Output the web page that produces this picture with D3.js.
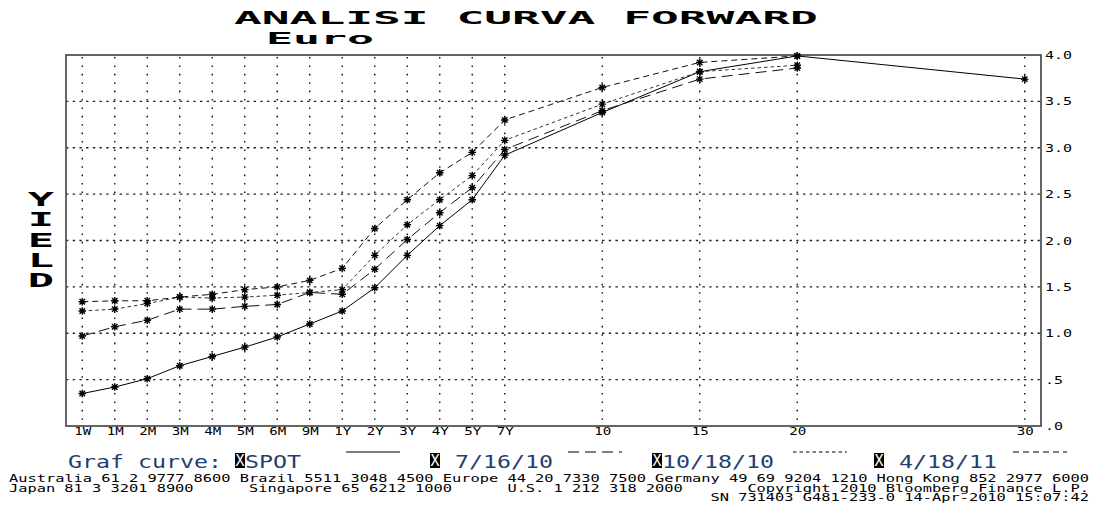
<!DOCTYPE html>
<html>
<head>
<meta charset="utf-8">
<script src="https://cdn.jsdelivr.net/npm/d3@7"></script>
<style>
  body { margin: 0; background: #fff; }
  text { white-space: pre; }
</style>
</head>
<body>
<svg id="chart" width="1093" height="506"></svg>
<script>
// tenors along the x axis and their slot on the Bloomberg grid
const tenors = ['1W','1M','2M','3M','4M','5M','6M','9M','1Y','2Y','3Y','4Y','5Y','7Y','10','15','20','30'];
const slots  = [0,1,2,3,4,5,6,7,8,9,10,11,12,13,16,19,22,29];

const spot    = [0.35,0.42,0.51,0.65,0.75,0.85,0.96,1.10,1.24,1.49,1.84,2.16,2.44,2.92,3.38,3.82,3.99,3.74];
const fwd0716 = [0.97,1.07,1.14,1.26,1.26,1.29,1.31,1.44,1.42,1.69,2.01,2.30,2.57,2.98,3.40,3.74,3.86];
const fwd1018 = [1.24,1.26,1.32,1.39,1.38,1.39,1.41,1.44,1.47,1.84,2.17,2.44,2.70,3.08,3.47,3.82,3.89];
const fwd0418 = [1.34,1.35,1.35,1.39,1.42,1.47,1.50,1.57,1.70,2.13,2.44,2.73,2.95,3.30,3.65,3.92,3.99];

const seriesNames = ['SPOT', '7/16/10', '10/18/10', '4/18/11'];
const yTicks = [0, 0.5, 1, 1.5, 2, 2.5, 3, 3.5, 4];
const yTickLabels = ['.0', '.5', '1.0', '1.5', '2.0', '2.5', '3.0', '3.5', '4.0'];

const footer1 = 'Australia 61 2 9777 8600 Brazil 5511 3048 4500 Europe 44 20 7330 7500 Germany 49 69 9204 1210 Hong Kong 852 2977 6000';
const footer2 = ['Japan 81 3 3201 8900', 'Singapore 65 6212 1000', 'U.S. 1 212 318 2000', 'Copyright 2010 Bloomberg Finance L.P.'];
const footer3 = 'SN 731403 G481-233-0 14-Apr-2010 15:07:42';

const mono = "'DejaVu Sans Mono', 'Liberation Mono', monospace";
const svg = d3.select('#chart');

const plotL = 66, plotR = 1041, plotT = 55, plotB = 426;
const x = d3.scaleLinear().domain([-0.5, 29.5]).range([plotL, plotR]);
const y = d3.scaleLinear().domain([0, 4]).range([plotB, plotT]);

// titles
const title = 'ANALISI CURVA FORWARD';
svg.append('text')
  .attr('x', 234).attr('y', 24)
  .attr('font-family', mono).attr('font-weight', 'bold').attr('font-size', 17)
  .attr('textLength', title.length * 27.8).attr('lengthAdjust', 'spacingAndGlyphs')
  .text(title);
svg.append('text')
  .attr('x', 266).attr('y', 44)
  .attr('font-family', mono).attr('font-weight', 'bold').attr('font-size', 16)
  .attr('textLength', 4 * 27).attr('lengthAdjust', 'spacingAndGlyphs')
  .text('Euro');

// YIELD, stacked letters
'YIELD'.split('').forEach((ch, i) => {
  svg.append('text')
    .attr('transform', `translate(41, ${206 + i * 20.3}) scale(2.3, 1)`)
    .attr('text-anchor', 'middle')
    .attr('font-family', mono).attr('font-weight', 'bold').attr('font-size', 19)
    .text(ch);
});

// grid
const grid = svg.append('g');
grid.selectAll('line.v')
  .data(slots)
  .enter().append('line')
  .attr('x1', d => x(d)).attr('x2', d => x(d))
  .attr('y1', plotT + 2).attr('y2', plotB)
  .attr('stroke', '#111').attr('stroke-width', 1.4)
  .attr('stroke-dasharray', '1.6,6.8');
grid.selectAll('line.h')
  .data(yTicks.slice(1, -1))
  .enter().append('line')
  .attr('x1', plotL).attr('x2', plotR)
  .attr('y1', d => y(d)).attr('y2', d => y(d))
  .attr('stroke', '#222').attr('stroke-width', 1.3)
  .attr('stroke-dasharray', '2.4,4.3');

// frame
svg.append('rect')
  .attr('x', plotL).attr('y', plotT)
  .attr('width', plotR - plotL).attr('height', plotB - plotT)
  .attr('fill', 'none').attr('stroke', '#555').attr('stroke-width', 1.8);

// axes
const xAxis = svg.append('g')
  .attr('transform', `translate(0, ${plotB})`)
  .call(d3.axisBottom(x).tickValues(slots).tickFormat((d, i) => tenors[i]).tickSize(0));
xAxis.select('.domain').remove();
xAxis.selectAll('text')
  .attr('y', 8.5).attr('dy', null)
  .attr('font-family', mono).attr('font-size', 10).attr('fill', '#000')
  .attr('textLength', function () { return this.textContent.length * 8.5; })
  .attr('lengthAdjust', 'spacingAndGlyphs');

const yAxis = svg.append('g')
  .attr('transform', `translate(${plotR}, 0)`)
  .call(d3.axisRight(y).tickValues(yTicks).tickFormat((d, i) => yTickLabels[i]).tickSize(0));
yAxis.select('.domain').remove();
yAxis.selectAll('text')
  .attr('x', 4).attr('dy', '0.36em')
  .attr('font-family', mono).attr('font-size', 10).attr('fill', '#000')
  .attr('textLength', function () { return this.textContent.length * 9; })
  .attr('lengthAdjust', 'spacingAndGlyphs');

// series
const series = [
  { name: seriesNames[0], values: spot,    dash: null,      color: '#000' },
  { name: seriesNames[1], values: fwd0716, dash: '11,6',    color: '#111' },
  { name: seriesNames[2], values: fwd1018, dash: '3.5,3',   color: '#333' },
  { name: seriesNames[3], values: fwd0418, dash: '6,4',     color: '#111' }
];

const line = d3.line()
  .x((d, i) => x(slots[i]))
  .y(d => y(d));

function star(r) {
  const d = r * 0.72;
  return `M0,${-r}L0,${r}M${-r},0L${r},0M${-d},${-d}L${d},${d}M${-d},${d}L${d},${-d}`;
}

const plot = svg.append('g');
series.forEach(s => {
  plot.append('path')
    .attr('d', line(s.values))
    .attr('fill', 'none')
    .attr('stroke', s.color)
    .attr('stroke-width', 1)
    .attr('stroke-dasharray', s.dash);
});
series.forEach(s => {
  plot.append('g').selectAll('path')
    .data(s.values)
    .enter().append('path')
    .attr('transform', (d, i) => `translate(${x(slots[i])}, ${y(d)})`)
    .attr('d', star(3.8))
    .attr('fill', 'none')
    .attr('stroke', '#000')
    .attr('stroke-width', 1.4);
});

// legend
const legendColor = '#22406e';
svg.append('text')
  .attr('x', 68).attr('y', 468)
  .attr('font-family', mono).attr('font-size', 18).attr('fill', legendColor)
  .attr('textLength', 11 * 14).attr('lengthAdjust', 'spacingAndGlyphs')
  .text('Graf curve:');

const boxX  = [235, 430, 652, 874];
const textX = [245, 455, 662, 899];
const lineX = [346, 568, 793, 1013];
series.forEach((s, i) => {
  svg.append('rect')
    .attr('x', boxX[i]).attr('y', 453)
    .attr('width', 10).attr('height', 15)
    .attr('fill', '#000');
  svg.append('text')
    .attr('x', boxX[i] + 5).attr('y', 466)
    .attr('text-anchor', 'middle')
    .attr('font-family', mono).attr('font-size', 15).attr('fill', '#fff')
    .attr('textLength', 9).attr('lengthAdjust', 'spacingAndGlyphs')
    .text('X');
  svg.append('text')
    .attr('x', textX[i]).attr('y', 468)
    .attr('font-family', mono).attr('font-size', 18).attr('fill', legendColor)
    .attr('textLength', s.name.length * 14).attr('lengthAdjust', 'spacingAndGlyphs')
    .text(s.name);
  svg.append('line')
    .attr('x1', lineX[i]).attr('x2', lineX[i] + 54)
    .attr('y1', 452).attr('y2', 452)
    .attr('stroke', '#000').attr('stroke-width', 1.2)
    .attr('stroke-dasharray', s.dash);
});

// footer
const fw = 9.23;
function foot(str, xPos, yPos) {
  svg.append('text')
    .attr('x', xPos).attr('y', yPos)
    .attr('font-family', mono).attr('font-size', 10).attr('fill', '#000')
    .attr('textLength', str.length * fw).attr('lengthAdjust', 'spacingAndGlyphs')
    .text(str);
}
foot(footer1, 9, 482);
const cols2 = [0, 26, 54, 80];
footer2.forEach((str, i) => foot(str, 9 + cols2[i] * fw, 492));
foot(footer3, 9 + (117 - footer3.length) * fw, 501);
</script>
</body>
</html>
